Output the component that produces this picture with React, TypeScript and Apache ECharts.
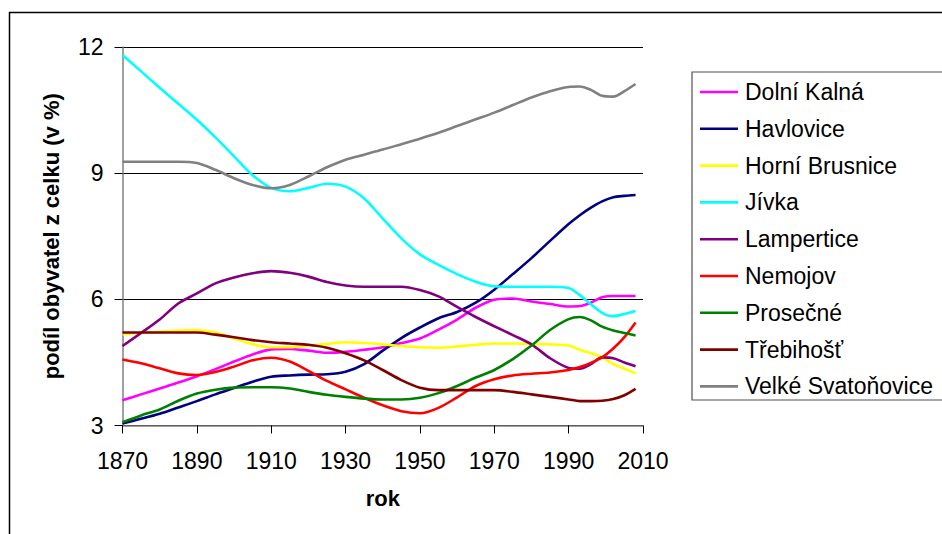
import React, { useEffect, useRef } from "react";
import * as echarts from "echarts";

const years = [1870, 1875, 1880, 1885, 1890, 1895, 1900, 1905, 1910, 1915, 1920, 1925, 1930, 1935, 1940, 1945, 1950, 1955, 1960, 1965, 1970, 1975, 1980, 1985, 1990, 1993, 1996, 1999, 2002, 2005, 2008];

const xTicks = { min: 1870, max: 2010, interval: 20 };
const yTicks = { min: 3, max: 12, interval: 3 };

const dolniKalna = [3.60, 3.74, 3.88, 4.02, 4.17, 4.34, 4.52, 4.69, 4.81, 4.82, 4.78, 4.73, 4.75, 4.80, 4.86, 4.96, 5.07, 5.28, 5.52, 5.80, 5.99, 6.02, 5.95, 5.89, 5.83, 5.84, 5.92, 6.05, 6.08, 6.08, 6.08];
const havlovice = [3.05, 3.16, 3.28, 3.43, 3.58, 3.74, 3.89, 4.04, 4.16, 4.19, 4.21, 4.22, 4.28, 4.46, 4.78, 5.08, 5.33, 5.55, 5.70, 5.92, 6.23, 6.60, 6.98, 7.39, 7.79, 8.00, 8.18, 8.33, 8.43, 8.46, 8.48];
const horniBrusnice = [5.17, 5.20, 5.23, 5.26, 5.27, 5.21, 5.07, 4.93, 4.86, 4.86, 4.90, 4.94, 4.98, 4.96, 4.93, 4.89, 4.86, 4.85, 4.88, 4.92, 4.95, 4.95, 4.94, 4.93, 4.90, 4.80, 4.72, 4.62, 4.46, 4.35, 4.24];
const jivka = [11.81, 11.42, 11.03, 10.65, 10.27, 9.85, 9.40, 8.95, 8.65, 8.57, 8.65, 8.75, 8.68, 8.40, 7.92, 7.45, 7.07, 6.82, 6.60, 6.42, 6.31, 6.30, 6.30, 6.30, 6.27, 6.10, 5.88, 5.68, 5.60, 5.65, 5.72];
const lampertice = [4.89, 5.20, 5.52, 5.90, 6.14, 6.38, 6.52, 6.62, 6.67, 6.63, 6.54, 6.41, 6.33, 6.30, 6.30, 6.30, 6.22, 6.07, 5.82, 5.58, 5.36, 5.15, 4.93, 4.60, 4.37, 4.35, 4.46, 4.62, 4.60, 4.50, 4.41];
const nemojov = [4.57, 4.48, 4.36, 4.24, 4.20, 4.27, 4.40, 4.55, 4.61, 4.52, 4.30, 4.06, 3.86, 3.66, 3.48, 3.34, 3.29, 3.42, 3.67, 3.94, 4.10, 4.19, 4.23, 4.26, 4.32, 4.39, 4.49, 4.62, 4.83, 5.10, 5.45];
const prosecne = [3.08, 3.24, 3.38, 3.59, 3.76, 3.85, 3.90, 3.91, 3.91, 3.88, 3.80, 3.73, 3.68, 3.64, 3.62, 3.62, 3.66, 3.77, 3.94, 4.14, 4.32, 4.58, 4.90, 5.27, 5.53, 5.58, 5.50, 5.35, 5.26, 5.20, 5.14];
const trebihost = [5.21, 5.21, 5.21, 5.21, 5.21, 5.16, 5.10, 5.03, 4.98, 4.95, 4.92, 4.85, 4.72, 4.55, 4.32, 4.08, 3.90, 3.84, 3.84, 3.84, 3.84, 3.80, 3.74, 3.68, 3.62, 3.58, 3.58, 3.59, 3.63, 3.72, 3.87];
const velkeSvatonovice = [9.27, 9.27, 9.27, 9.27, 9.24, 9.08, 8.88, 8.72, 8.64, 8.72, 8.92, 9.14, 9.32, 9.44, 9.56, 9.69, 9.82, 9.96, 10.12, 10.28, 10.44, 10.62, 10.80, 10.95, 11.05, 11.06, 10.98, 10.84, 10.82, 10.95, 11.12];

const seriesNames = ["Dolní Kalná", "Havlovice", "Horní Brusnice", "Jívka", "Lampertice", "Nemojov", "Prosečné", "Třebihošť", "Velké Svatoňovice"];
const seriesValues = [dolniKalna, havlovice, horniBrusnice, jivka, lampertice, nemojov, prosecne, trebihost, velkeSvatonovice];
const seriesColors = ["#FF00FF", "#000080", "#FFFF00", "#00FFFF", "#800080", "#FF0000", "#008000", "#800000", "#808080"];

const yTitle = "podíl obyvatel z celku (v %)";
const xTitle = "rok";

const FONT = "'Liberation Sans', Arial, sans-serif";

export default function App() {
  const ref = useRef<HTMLDivElement>(null);
  useEffect(() => {
    if (!ref.current) return;
    const chart = echarts.init(ref.current, undefined, { renderer: "svg" });
    chart.setOption({
      animation: false,
      backgroundColor: "#ffffff",
      grid: { left: 122.5, right: 299, top: 47, bottom: 108.5, containLabel: false },
      xAxis: {
        type: "value",
        min: xTicks.min,
        max: xTicks.max,
        interval: xTicks.interval,
        name: xTitle,
        nameLocation: "middle",
        nameGap: 62,
        nameTextStyle: { fontFamily: FONT, fontSize: 22, fontWeight: "bold", color: "#000" },
        axisLine: { lineStyle: { color: "#808080", width: 1.5 } },
        axisTick: { show: true, length: 8, lineStyle: { color: "#000" } },
        axisLabel: { fontFamily: FONT, fontSize: 23, color: "#000", margin: 24, formatter: (v: number) => String(v) },
        splitLine: { show: false },
      },
      yAxis: {
        type: "value",
        min: yTicks.min,
        max: yTicks.max,
        interval: yTicks.interval,
        name: yTitle,
        nameLocation: "middle",
        nameGap: 60,
        nameTextStyle: { fontFamily: FONT, fontSize: 22, fontWeight: "bold", color: "#000" },
        axisLine: { show: true, lineStyle: { color: "#808080", width: 1.5 } },
        axisTick: { show: true, length: 8, lineStyle: { color: "#000" } },
        axisLabel: { fontFamily: FONT, fontSize: 23, color: "#000", margin: 19 },
        splitLine: { show: true, lineStyle: { color: "#000", width: 1 } },
      },
      legend: {
        orient: "vertical",
        left: 700,
        top: 80.5,
        icon: "rect",
        itemWidth: 38,
        itemHeight: 2.6,
        itemGap: 13.8,
        padding: 0,
        textStyle: { fontFamily: FONT, fontSize: 23, color: "#000", lineHeight: 23, padding: [0, 0, 0, 2] },
        data: seriesNames,
      },
      graphic: [
        {
          type: "rect",
          shape: { x: 9.5, y: 12.5, width: 1000, height: 1000 },
          style: { fill: "none", stroke: "#000", lineWidth: 1.5 },
          silent: true,
          z: -10,
        },
        {
          type: "rect",
          shape: { x: 692, y: 72, width: 400, height: 328 },
          style: { fill: "none", stroke: "#505050", lineWidth: 1.2 },
          silent: true,
        },
      ],
      series: seriesNames.map((name, i) => ({
        name,
        type: "line",
        smooth: 0.3,
        symbol: "none",
        showSymbol: false,
        lineStyle: { color: seriesColors[i], width: 2.6 },
        itemStyle: { color: seriesColors[i] },
        data: years.map((yr, j) => [yr, seriesValues[i][j]]),
      })),
    });
    return () => chart.dispose();
  }, []);
  return (
    <div
      ref={ref}
      style={{ position: "fixed", left: 0, top: 0, width: 942, height: 534, background: "#fff" }}
    />
  );
}
